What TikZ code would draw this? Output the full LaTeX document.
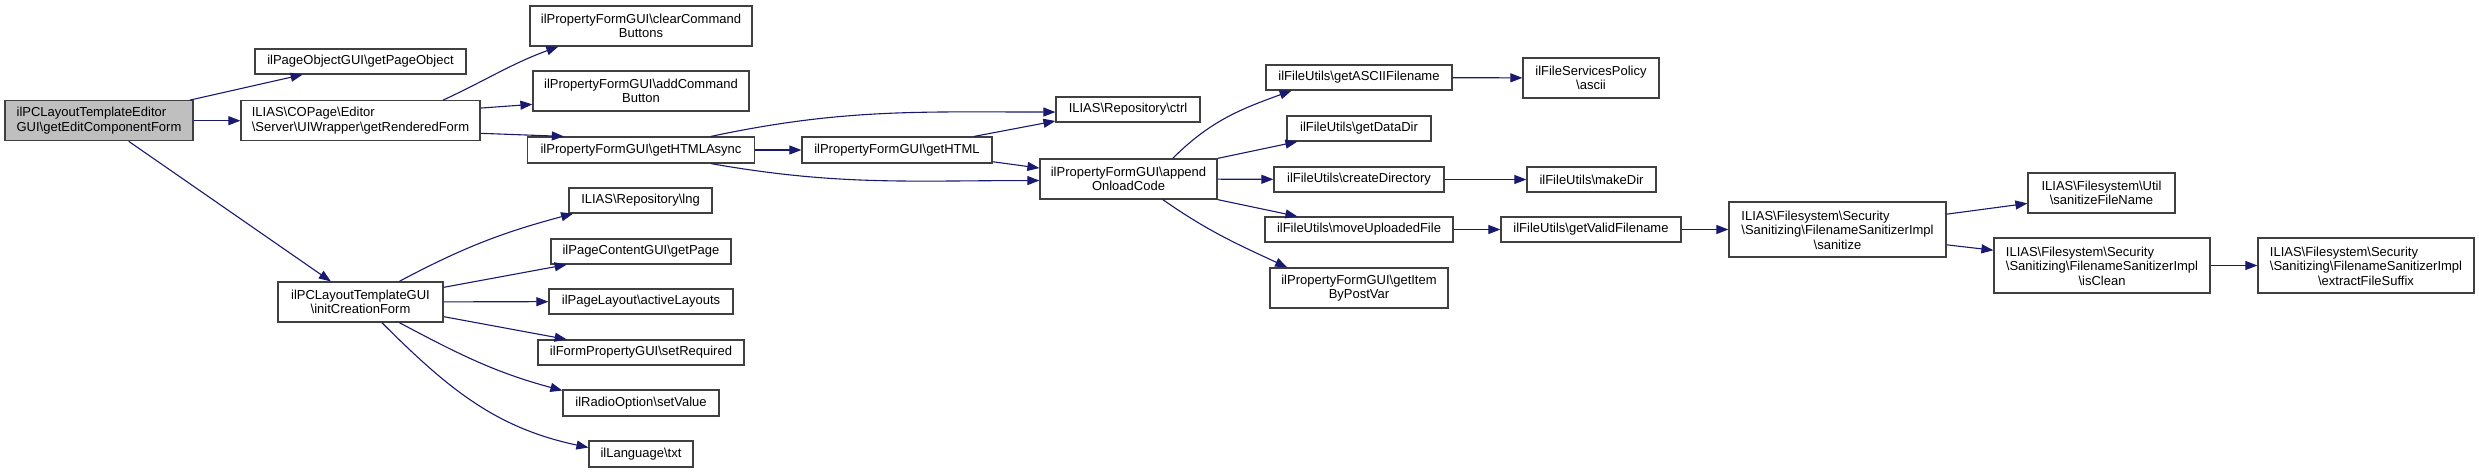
\documentclass[tikz,border=0pt]{standalone}
\usepackage{fontspec}
\setmainfont{Liberation Sans}
\usepackage{tikz}
\usetikzlibrary{arrows.meta}
\definecolor{edgeblue}{HTML}{191970}
\definecolor{boxline}{HTML}{404040}
\definecolor{rootgray}{HTML}{BFBFBF}
\newcommand{\bsl}{\textbackslash}
\newcommand{\sanlines}{\begin{tabular}[b]{@{}l@{}}ILIAS\bsl Filesystem\bsl Security\\\bsl Sanitizing\bsl FilenameSanitizerImpl\end{tabular}}
\begin{document}
\begin{tikzpicture}[x=1pt,y=1pt,
    fn/.style={draw=boxline,line width=1.2pt,fill=white,inner sep=0pt,align=center,
      font=\fontsize{13}{14.5}\selectfont},
    sz/.style 2 args={minimum width=#1,minimum height=#2},
    call/.style={draw=edgeblue,line width=1.1pt,-{Triangle[length=12pt,width=9pt]}}]
	\useasboundingbox (0,0) rectangle (2479,-473);
	% caller
	\node[fn,sz={188}{40},fill=rootgray,align=left](root) at (99,-120.7) {ilPCLayoutTemplateEditor\\GUI\bsl getEditComponentForm};
	% first level
	\node[fn,sz={211}{25}](pageobj) at (360.5,-61.5) {ilPageObjectGUI\bsl getPageObject};
	\node[fn,sz={239}{40},align=left](rendered) at (360.5,-120.7) {ILIAS\bsl COPage\bsl Editor\\\bsl Server\bsl UIWrapper\bsl getRenderedForm};
	\node[fn,sz={165}{40}](initform) at (360.5,-302) {ilPCLayoutTemplateGUI\\\bsl initCreationForm};
	% second level
	\node[fn,sz={222}{40}](clearcmd) at (641,-26) {ilPropertyFormGUI\bsl clearCommand\\Buttons};
	\node[fn,sz={216}{40}](addcmd) at (641,-91) {ilPropertyFormGUI\bsl addCommand\\Button};
	\node[fn,sz={227}{26}](htmlasync) at (641,-150) {ilPropertyFormGUI\bsl getHTMLAsync};
	\node[fn,sz={143}{25}](lng) at (640.5,-200.5) {ILIAS\bsl Repository\bsl lng};
	\node[fn,sz={180}{25}](getpage) at (641,-251.5) {ilPageContentGUI\bsl getPage};
	\node[fn,sz={184}{25}](layouts) at (641,-301.5) {ilPageLayout\bsl activeLayouts};
	\node[fn,sz={206}{25}](required) at (641,-352.5) {ilFormPropertyGUI\bsl setRequired};
	\node[fn,sz={156}{26}](setvalue) at (641,-403) {ilRadioOption\bsl setValue};
	\node[fn,sz={104}{26}](txt) at (641,-454) {ilLanguage\bsl txt};
	\node[fn,sz={190}{26}](gethtml) at (897,-150) {ilPropertyFormGUI\bsl getHTML};
	% third level
	\node[fn,sz={144}{25}](ctrl) at (1128,-109.5) {ILIAS\bsl Repository\bsl ctrl};
	\node[fn,sz={177}{40}](onload) at (1128.5,-179) {ilPropertyFormGUI\bsl append\\OnloadCode};
	\node[fn,sz={186}{25}](asciifn) at (1359,-77.5) {ilFileUtils\bsl getASCIIFilename};
	\node[fn,sz={144}{25}](datadir) at (1359,-128.5) {ilFileUtils\bsl getDataDir};
	\node[fn,sz={170}{25}](createdir) at (1359,-179.5) {ilFileUtils\bsl createDirectory};
	\node[fn,sz={188}{25}](moveup) at (1359,-229.5) {ilFileUtils\bsl moveUploadedFile};
	\node[fn,sz={178}{40}](itempost) at (1359,-288) {ilPropertyFormGUI\bsl getItem\\ByPostVar};
	\node[fn,sz={136}{40}](policy) at (1591,-78) {ilFileServicesPolicy\\\bsl ascii};
	\node[fn,sz={129}{25}](makedir) at (1591.5,-179.5) {ilFileUtils\bsl makeDir};
	\node[fn,sz={180}{25}](validfn) at (1591,-229.5) {ilFileUtils\bsl getValidFilename};
	% sanitizer
	\node[fn,sz={217}{55}](sanitize) at (1837.5,-229.5) {\sanlines\\\bsl sanitize};
	\node[fn,sz={147}{40}](sanitizefn) at (2101.5,-193) {ILIAS\bsl Filesystem\bsl Util\\\bsl sanitizeFileName};
	\node[fn,sz={216}{55}](isclean) at (2102,-265.5) {\sanlines\\\bsl isClean};
	\node[fn,sz={216}{55}](suffix) at (2366,-265.5) {\sanlines\\\bsl extractFileSuffix};
	% calls
	\draw[call] (root)--(pageobj);
	\draw[call] (root)--(rendered);
	\draw[call] (root)--(initform);
	\draw[call] (rendered.14) to[out=25,in=200] (clearcmd.194);
	\draw[call] (rendered.6)--(addcmd.187);
	\draw[call] (rendered.-6)--(htmlasync.170);
	\draw[call] (htmlasync.11) to[out=12,in=180] (ctrl.182);
	\draw[call] (htmlasync)--(gethtml);
	\draw[call] (htmlasync.-11) to[out=-10,in=180] (onload.181);
	\draw[call] (gethtml.10)--(ctrl.189);
	\draw[call] (gethtml.-7)--(onload.173);
	\draw[call] (onload.25) to[out=45,in=200] (asciifn.191);
	\draw[call] (onload.north east)--(datadir.192);
	\draw[call] (onload)--(createdir);
	\draw[call] (onload.south east)--(moveup.168);
	\draw[call] (onload.-31) to[out=-35,in=155] (itempost.164);
	\draw[call] (asciifn)--(policy);
	\draw[call] (createdir)--(makedir);
	\draw[call] (moveup)--(validfn);
	\draw[call] (validfn)--(sanitize);
	\draw[call] (sanitize.8)--(sanitizefn.188);
	\draw[call] (sanitize.-8)--(isclean.172);
	\draw[call] (isclean)--(suffix);
	\draw[call] (initform.28) to[out=28,in=195] (lng.191);
	\draw[call] (initform.10)--(getpage.190);
	\draw[call] (initform)--(layouts);
	\draw[call] (initform.-10)--(required.170);
	\draw[call] (initform.-28) to[out=-28,in=165] (setvalue.171);
	\draw[call] (initform.-44) to[out=-45,in=168] (txt.173);
\end{tikzpicture}
\end{document}
